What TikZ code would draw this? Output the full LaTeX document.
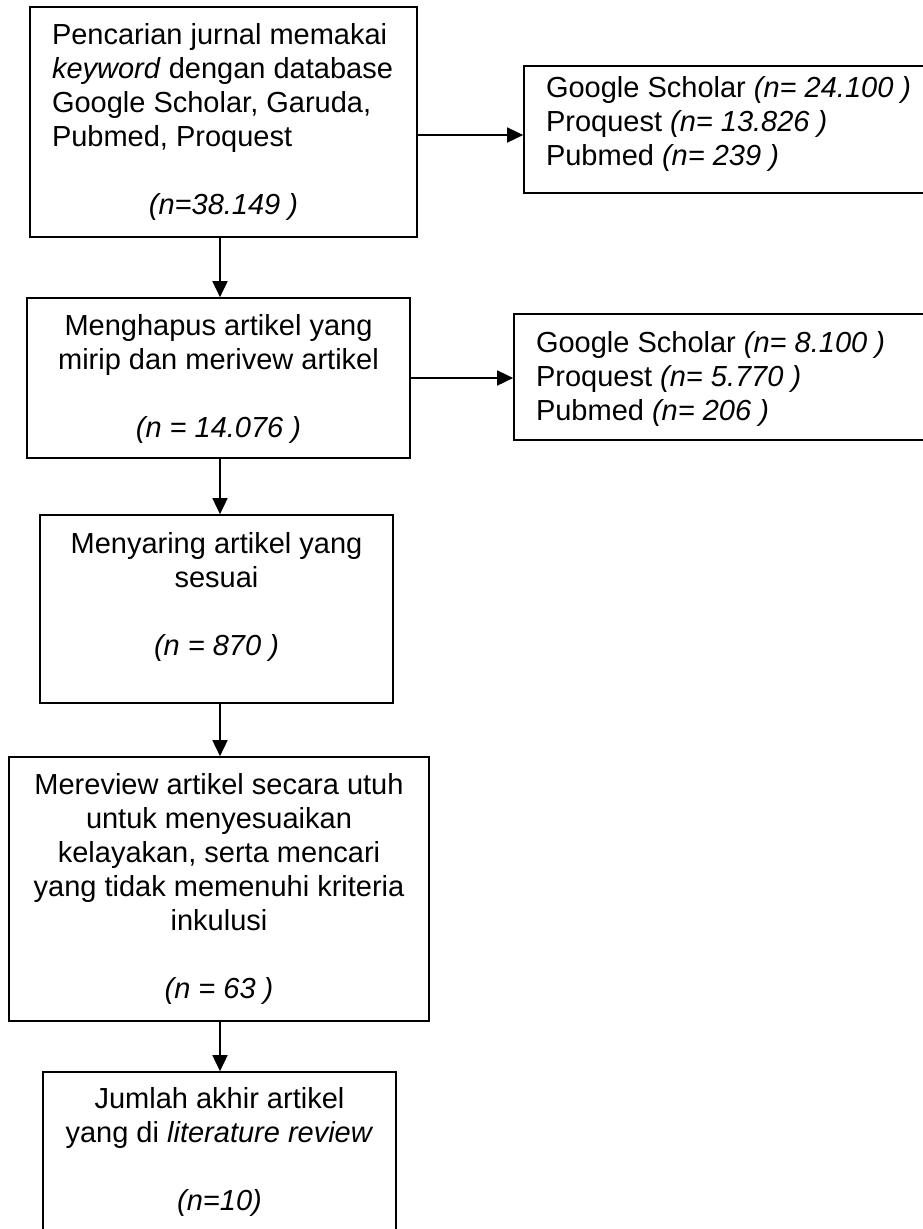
\documentclass[tikz,border=0pt]{standalone}
\usepackage{fontspec}
\setmainfont{Liberation Sans}
\usetikzlibrary{calc,arrows.meta}

\tikzset{
  stage/.style={draw, line width=1.7pt, inner sep=0pt, font=\fontsize{29}{34}\selectfont},
  flow/.style={line width=1.7pt, -{Triangle[length=16pt,width=15pt]}}
}

\begin{document}
\begin{tikzpicture}[x=1pt,y=-1pt]
  \fill[white] (0,0) rectangle (923,1229);
  \useasboundingbox (0,0) rectangle (923,1229);

  %% Main column of the flow
  \node[stage] (SEARCH) at (223.5,122) {\parbox[c][230pt][t]{387pt}{\vspace*{14pt}\raggedright\leftskip=22pt
      \strut Pencarian jurnal memakai\\ \textit{keyword} dengan database\\ Google Scholar, Garuda,\\ Pubmed, Proquest\par
      \vspace{34pt}\centering\textit{(n=38.149 )}\par}};
  \node[stage] (DEDUP) at (218.5,378) {\parbox[c][160pt][t]{383pt}{\vspace*{13.2pt}\centering
      \strut Menghapus artikel yang\\ mirip dan merivew artikel\\[34pt] \textit{(n = 14.076 )}}};
  \node[stage] (SCREEN) at (216.5,609) {\parbox[c][188pt][t]{353pt}{\vspace*{14.2pt}\centering
      \strut Menyaring artikel yang\\ sesuai\\[34pt] \textit{(n = 870 )}}};
  \node[stage] (REVIEW) at (219,889) {\parbox[c][264pt][t]{420pt}{\vspace*{13.2pt}\centering
      \strut Mereview artikel secara utuh\\ untuk menyesuaikan\\ kelayakan, serta mencari\\
      yang tidak memenuhi kriteria\\ inkulusi\\[34pt] \textit{(n = 63 )}}};
  \node[stage] (FINAL) at (219.5,1157) {\parbox[c][170pt][t]{353pt}{\vspace*{12.2pt}\centering
      \strut Jumlah akhir artikel\\ yang di \textit{literature review}\\[34pt] \textit{(n=10)}}};

  %% Counts per database
  \node[stage] (SRC1) at (749,129.5) {\parbox[c][127pt][t]{450pt}{\vspace*{7.2pt}\raggedright\leftskip=22pt
      \strut Google Scholar \textit{(n= 24.100 )}\\ Proquest \textit{(n= 13.826 )}\\ Pubmed \textit{(n= 239 )}\par}};
  \node[stage] (SRC2) at (739,377) {\parbox[c][126pt][t]{450pt}{\vspace*{14.2pt}\raggedright\leftskip=22pt
      \strut Google Scholar \textit{(n= 8.100 )}\\ Proquest \textit{(n= 5.770 )}\\ Pubmed \textit{(n= 206 )}\par}};

  %% Arrows
  \coordinate (AXIS) at (220,0);
  \foreach \a/\b in {SEARCH/DEDUP,DEDUP/SCREEN,SCREEN/REVIEW,REVIEW/FINAL}
    \draw[flow] (\a.south -| AXIS) -- (\b.north -| AXIS);

  \draw[flow] ([yshift=-13pt]SEARCH.east) -- ([yshift=-13pt]SEARCH.east -| SRC1.west);
  \draw[flow] (DEDUP.east) -- (DEDUP.east -| SRC2.west);
\end{tikzpicture}
\end{document}
